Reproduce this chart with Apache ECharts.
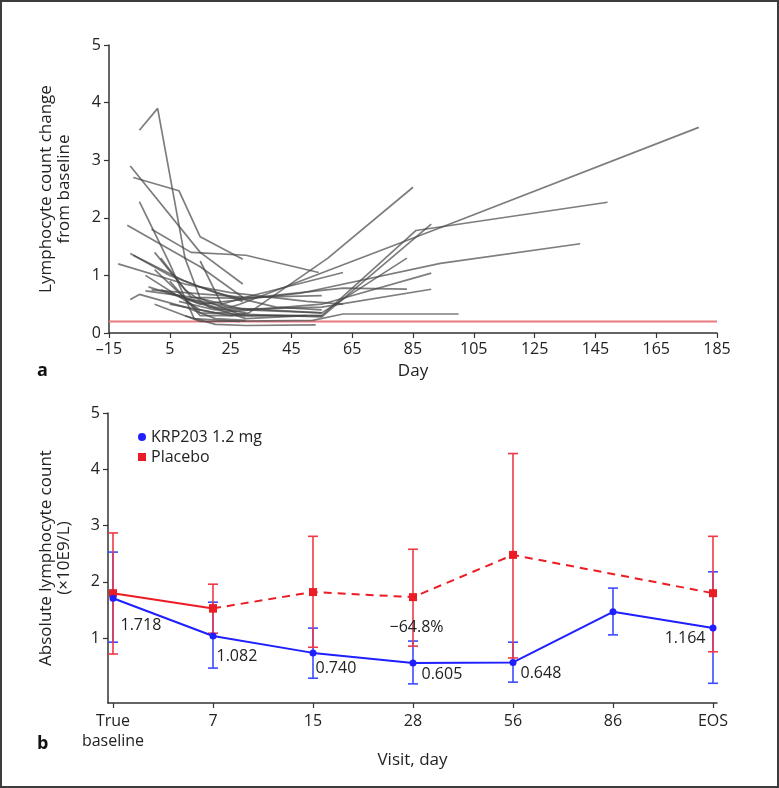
<!DOCTYPE html>
<html>
<head>
<meta charset="utf-8">
<script src="https://cdn.jsdelivr.net/npm/echarts@6/dist/echarts.min.js"></script>
<style>
html,body{margin:0;padding:0;background:#fff;}
#chart{width:779px;height:788px;}
</style>
</head>
<body>
<div id="chart"></div>
<script>
// ---------- Panel a: individual lymphocyte count change (day, value) ----------
const subjectLines = [
  [[-5,3.52],[1,3.9],[10,1.3],[15,0.6],[29,0.3],[55,0.3]],
  [[-8,2.9],[15,1.4],[29,0.85]],
  [[-7,2.7],[8,2.47],[15,1.67],[29,1.28]],
  [[-5,2.28],[5,1.2],[13,0.25],[28,0.2]],
  [[-9,1.87],[15,1.15],[29,0.62]],
  [[-1,1.8],[12,1.4],[30,1.35],[54,1.05]],
  [[-12,1.2],[10,0.85],[25,0.7],[50,0.55],[62,0.5]],
  [[-8,1.38],[5,1.0],[15,0.8],[29,0.55]],
  [[-7,1.35],[10,0.9],[20,0.7],[40,0.45],[55,0.4]],
  [[0,1.4],[10,0.75],[18,0.45],[30,0.35]],
  [[-1,0.75],[15,0.68],[30,0.62],[55,0.65]],
  [[-8,0.58],[-5,0.67],[10,0.45],[20,0.25],[30,0.22]],
  [[-3,0.73],[15,0.6],[30,0.4],[55,0.35]],
  [[2,1.3],[12,0.62],[30,0.6],[62,0.78],[83,0.76]],
  [[-3,1.0],[15,0.4],[25,0.3],[31,0.35],[57,1.3],[85,2.53]],
  [[5,0.9],[15,0.3],[55,0.3],[86,1.78],[149,2.27]],
  [[0,1.1],[15,0.35],[55,0.28],[91,1.89]],
  [[5,0.7],[15,0.5],[48,0.69],[94,1.21],[140,1.55]],
  [[10,0.6],[25,0.45],[28,0.5],[95,1.85],[179,3.57]],
  [[2,0.75],[20,0.45],[55,0.35],[83,1.3]],
  [[5,0.5],[20,0.35],[55,0.5],[91,1.04]],
  [[8,0.55],[20,0.4],[55,0.45],[91,0.76]],
  [[0,0.5],[15,0.2],[52,0.22],[62,0.33],[100,0.33]],
  [[10,0.3],[20,0.15],[30,0.13],[53,0.14]],
  [[-2,0.8],[10,0.6],[30,0.25],[50,0.3]],
  [[15,1.25],[22,0.5],[30,0.62],[62,1.05]]
];
const thresholdLine = [[-15,0.2],[185,0.2]];

// ---------- Panel b: absolute lymphocyte count ----------
const visits = ['True\nbaseline','7','15','28','56','86','EOS'];
const krpMean = [1.71,1.04,0.74,0.56,0.57,1.47,1.18];
const krpLow  = [0.93,0.47,0.29,0.19,0.22,1.06,0.20];
const krpHigh = [2.53,1.64,1.18,0.95,0.93,1.89,2.18];
const placeboMean = [1.80,1.53,1.82,1.73,2.48,null,1.80];
const placeboLow  = [0.72,1.09,0.84,0.86,0.65,null,0.76];
const placeboHigh = [2.87,1.96,2.81,2.58,4.28,null,2.81];
const krpLabels = ['1.718','1.082','0.740','0.605','0.648','','1.164'];
const reductionLabel = ['\u221264.8%'];
const reductionAt = [[3,1.2]];

// ---------- build ----------
const FONT = 'Open Sans';
const TXT = '#222';
const AX = '#333';
const BLUE = '#1f1fff';
const RED = '#ec1c24';
const RED_EB = '#ee3a48';
const BLUE_EB = '#3b4bff';

const series = [];
subjectLines.forEach((pts) => {
  series.push({
    type:'line', xAxisIndex:0, yAxisIndex:0, data:pts, symbol:'none', silent:true,
    lineStyle:{color:'rgba(70,70,70,0.7)', width:1.7}, z:2
  });
});
series.push({
  type:'line', xAxisIndex:0, yAxisIndex:0, data:thresholdLine, symbol:'none', silent:true,
  lineStyle:{color:'#e87a80', width:2}, z:1
});

function errBar(color){
  return function(params, api){
    const x = api.value(0), lo = api.value(1), hi = api.value(2);
    const a = api.coord([x, hi]), b = api.coord([x, lo]);
    const w = 5;
    const st = {stroke:color, lineWidth:1.6};
    return {type:'group', children:[
      {type:'line', shape:{x1:a[0],y1:a[1],x2:b[0],y2:b[1]}, style:st},
      {type:'line', shape:{x1:a[0]-w,y1:a[1],x2:a[0]+w,y2:a[1]}, style:st},
      {type:'line', shape:{x1:b[0]-w,y1:b[1],x2:b[0]+w,y2:b[1]}, style:st}
    ]};
  };
}
const idx = visits.map((v,i)=>i);
series.push({
  type:'custom', xAxisIndex:1, yAxisIndex:1, silent:true, z:3,
  renderItem: errBar(BLUE_EB), encode:{x:0, y:[1,2]},
  data: idx.map(i=>[i, krpLow[i], krpHigh[i]])
});
series.push({
  type:'custom', xAxisIndex:1, yAxisIndex:1, silent:true, z:4,
  renderItem: errBar(RED_EB), encode:{x:0, y:[1,2]},
  data: idx.filter(i=>placeboMean[i]!==null).map(i=>[i, placeboLow[i], placeboHigh[i]])
});

// blue label offsets (styling)
const lblOff = [[4,27],[0,20],[-1,16],[5,11],[4,11],[0,0],[-4,10]];
series.push({
  name:'KRP203 1.2 mg', type:'line', xAxisIndex:1, yAxisIndex:1, z:6,
  symbol:'circle', symbolSize:7, itemStyle:{color:BLUE},
  lineStyle:{color:BLUE, width:2},
  data: idx.map(i=>({
    value:[i, krpMean[i]],
    label:{show: krpLabels[i] !== '', formatter: krpLabels[i],
      position: i===6 ? 'left' : 'right', distance:0,
      offset: lblOff[i], color:TXT, fontSize:16, fontFamily:FONT}
  }))
});
series.push({
  name:'Placebo', type:'line', xAxisIndex:1, yAxisIndex:1, z:5,
  symbol:'rect', symbolSize:8, itemStyle:{color:RED},
  lineStyle:{color:RED, width:2},
  data: [0,1].map(i=>[i, placeboMean[i]])
});
series.push({
  name:'Placebo', type:'line', xAxisIndex:1, yAxisIndex:1, z:5, connectNulls:true,
  symbol:'rect', symbolSize:8, itemStyle:{color:RED},
  lineStyle:{color:RED, width:2, type:[8,6]},
  data: idx.filter(i=>i>=1 && placeboMean[i]!==null).map(i=>[i, placeboMean[i]])
});
series.push({
  type:'scatter', xAxisIndex:1, yAxisIndex:1, symbolSize:1, silent:true, z:7,
  itemStyle:{opacity:0},
  data: reductionAt,
  label:{show:true, position:'right', distance:0, offset:[-24,0], formatter: ()=>reductionLabel[0],
    color:TXT, opacity:1, fontSize:16, fontFamily:FONT}
});

const axisCommon = {
  axisLine:{show:true, onZero:false, lineStyle:{color:AX, width:1.5}},
  axisTick:{show:true, inside:false, length:5, lineStyle:{color:AX, width:1.2}},
  axisLabel:{color:TXT, fontSize:16, fontFamily:FONT, margin:8},
  splitLine:{show:false},
  nameTextStyle:{color:TXT, fontSize:17, fontFamily:FONT}
};

const option = {
  animation:false,
  backgroundColor:'#fff',
  textStyle:{fontFamily:FONT},
  grid:[
    {left:109, top:45, width:608, height:288},
    {left:108, top:413, width:609, height:290}
  ],
  xAxis:[
    Object.assign({}, axisCommon, {
      gridIndex:0, type:'value', min:-15, max:185, interval:20,
      name:'Day', nameLocation:'middle', nameGap:30,
      axisLabel:Object.assign({}, axisCommon.axisLabel, {
        formatter: v => v < 0 ? '\u2013' + Math.abs(v) : String(v)
      })
    }),
    Object.assign({}, axisCommon, {
      gridIndex:1, type:'value', min:-0.05, max:6.04,
      name:'Visit, day', nameLocation:'middle', nameGap:35,
      axisTick:Object.assign({}, axisCommon.axisTick, {customValues:[0,1,2,3,4,5,6]}),
      axisLabel:Object.assign({}, axisCommon.axisLabel, {
        customValues:[0,1,2,3,4,5,6], lineHeight:20,
        formatter: v => visits[Math.round(v)]
      })
    })
  ],
  yAxis:[
    Object.assign({}, axisCommon, {
      gridIndex:0, type:'value', min:0, max:5, interval:1,
      name:'Lymphocyte count change\nfrom baseline', nameLocation:'middle', nameGap:36,
      nameTextStyle:Object.assign({}, axisCommon.nameTextStyle, {lineHeight:18})
    }),
    Object.assign({}, axisCommon, {
      gridIndex:1, type:'value', min:-0.15, max:5,
      name:'Absolute lymphocyte count\n(\u00d710E9/L)', nameLocation:'middle', nameGap:35,
      nameTextStyle:Object.assign({}, axisCommon.nameTextStyle, {lineHeight:18}),
      axisTick:Object.assign({}, axisCommon.axisTick, {customValues:[1,2,3,4,5]}),
      axisLabel:Object.assign({}, axisCommon.axisLabel, {customValues:[1,2,3,4,5]})
    })
  ],
  legend:{
    left:133, top:424, orient:'vertical', itemWidth:8, itemHeight:8, itemGap:4,
    textStyle:{color:TXT, fontSize:16, fontFamily:FONT},
    data:[{name:'KRP203 1.2 mg', icon:'circle'},{name:'Placebo', icon:'rect'}]
  },
  graphic:[
    {type:'rect', shape:{x:1, y:1, width:777, height:786},
     style:{fill:'none', stroke:'#3c3c3c', lineWidth:2}, silent:true},
    {type:'text', left:37, top:362, style:{text:'a', fontSize:18, fontWeight:'bold', fill:'#111', fontFamily:FONT}},
    {type:'text', left:37, top:735, style:{text:'b', fontSize:18, fontWeight:'bold', fill:'#111', fontFamily:FONT}}
  ],
  series: series
};

const chart = echarts.init(document.getElementById('chart'), null, {renderer:'canvas'});
chart.setOption(option);
</script>
</body>
</html>
